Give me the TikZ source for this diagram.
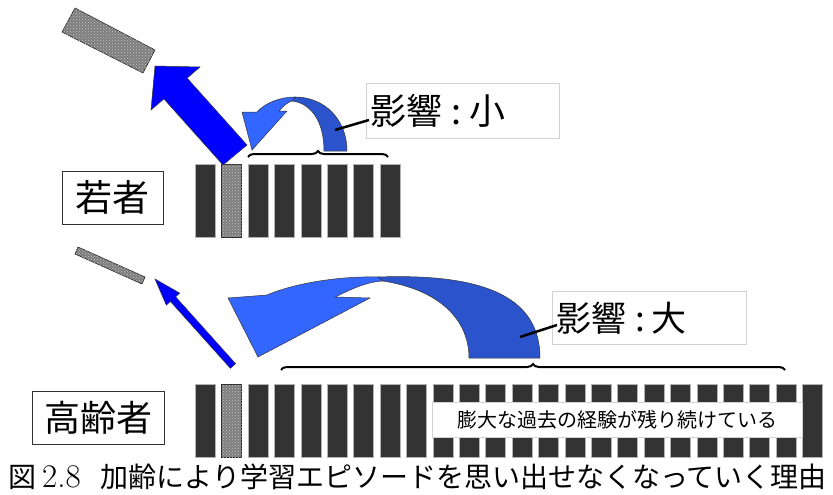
\documentclass[tikz,border=0pt]{standalone}
\usepackage{fontspec}
\newfontfamily\cjk{Noto Sans CJK JP}
\usetikzlibrary{decorations.pathreplacing,patterns}
\definecolor{barc}{RGB}{51,51,51}
\definecolor{lightb}{RGB}{51,102,255}
\definecolor{darkb}{RGB}{43,84,204}
\definecolor{pureb}{RGB}{0,0,255}
\definecolor{hatchc}{RGB}{125,125,125}
\begin{document}
\begin{tikzpicture}[x=1pt,y=-1pt,
  barbox/.style={fill=barc,draw=gray!60,line width=0.6pt,inner sep=0pt,anchor=north west},
  hatchbox/.style={fill=hatchc,draw=gray!30!black,line width=0.6pt,inner sep=0pt,anchor=north west,
     postaction={pattern=crosshatch dots,pattern color=gray!45}},
  hatchpoly/.style={fill=hatchc,draw=gray!30!black,line width=0.6pt,
     postaction={pattern=crosshatch dots,pattern color=gray!45}},
  outl/.style={draw=black!80,line width=0.5pt},
  labelbox/.style={draw=gray!35,fill=white,line width=0.8pt,inner xsep=4pt,inner ysep=0pt,anchor=north west,align=left},
  namebox/.style={draw=black!80,fill=white,line width=0.8pt,inner sep=0pt,anchor=north west},
  bracestyle/.style={decorate,decoration={brace,amplitude=6pt},line width=2pt},
  leader/.style={line width=2.5pt}]
\useasboundingbox (0,0) rectangle (833,495);

% ---------- top row (young) ----------
\foreach \i/\s in {0/barbox,1/hatchbox,2/barbox,3/barbox,4/barbox,5/barbox,6/barbox,7/barbox}
  \node[\s,minimum width=20pt,minimum height=73pt] (t\i) at ({195+26.4*\i},164) {};

\node[namebox,minimum width=101pt,minimum height=53pt,font=\cjk\fontsize{37}{37}\selectfont] (young) at (62,171) {若者};

% flying hatched bar (top)
\draw[hatchpoly] (62,32) -- (75,8) -- (155,50) -- (143,73) -- cycle;

% big blue arrow
\draw[outl,fill=pureb] (223,165) -- (163.9,98.9) -- (151,110) -- (155,66) -- (200,67) -- (187.1,78.1) -- (247,145) -- cycle;

% small curved arrow (top)
\draw[outl,fill=darkb] (295,97) .. controls (325,97) and (347,120) .. (347,151)
   -- (324,151) .. controls (324,120) and (310,103) .. (292,101) -- cycle;
\draw[outl,fill=lightb] (295,97) .. controls (280,97) and (265,103) .. (257,112)
   -- (242,112) -- (252,150) -- (287,111) -- (279,111)
   .. controls (283,106) and (288,102) .. (292,101) -- cycle;

% brace top
\coordinate (bt1) at (248,157);
\coordinate (bt2) at (388,157);
\draw[bracestyle] (bt1) -- (bt2);

% label small
\node[labelbox,minimum width=193pt,minimum height=55pt,text width=185pt,font=\cjk\fontsize{36}{36}\selectfont] (lblS) at (366,83) {影響\hspace{9pt}:\hspace{8pt}小};
\coordinate (ls1) at (335,130);
\coordinate (ls2) at (369,120);
\draw[leader] (ls1) -- (ls2);

% ---------- bottom row (elderly) ----------
\foreach \i in {0,...,23}{
  \ifnum\i=1
    \node[hatchbox,minimum width=20pt,minimum height=73pt] (b\i) at ({195+26.4*\i},384) {};
  \else
    \node[barbox,minimum width=20pt,minimum height=73pt] (b\i) at ({195+26.4*\i},384) {};
  \fi
}
\node[draw=gray!35,fill=white,line width=0.8pt,inner sep=0pt,anchor=north west,minimum width=370pt,minimum height=35pt,font=\cjk\fontsize{20}{20}\selectfont] (past) at (432,402) {膨大な過去の経験が残り続けている};

\node[namebox,minimum width=132pt,minimum height=53pt,font=\cjk\fontsize{36}{36}\selectfont] (old) at (32,391) {高齢者};

% flying hatched bar (bottom)
\draw[hatchpoly] (75,254) -- (78,247) -- (145,277) -- (142,284) -- cycle;

% small blue arrow
\draw[outl,fill=pureb] (230.4,368.3) -- (170.4,301.4) -- (166.3,305.1) -- (155,279) -- (179.7,293.1) -- (175.6,296.8) -- (235.6,363.7) -- cycle;

% big curved arrow (bottom)
\draw[outl,fill=darkb] (378,277) .. controls (490,273) and (540,300) .. (540,358)
   -- (469,358) .. controls (469,320) and (440,290) .. (383,281) -- cycle;
\draw[outl,fill=lightb] (378,277) .. controls (340,276) and (295,283) .. (267,295)
   -- (228,298) -- (258,357) -- (370,298) -- (335,297)
   .. controls (350,290) and (365,282) .. (383,281) -- cycle;

% brace bottom
\coordinate (bb1) at (281,370);
\coordinate (bb2) at (785,370);
\draw[bracestyle] (bb1) -- (bb2);

% label large
\node[labelbox,minimum width=194pt,minimum height=53pt,text width=186pt,font=\cjk\fontsize{35}{35}\selectfont] (lblL) at (552,291) {影響\hspace{9pt}:\hspace{6pt}大};
\coordinate (ll1) at (520,337);
\coordinate (ll2) at (557,325);
\draw[leader] (ll1) -- (ll2);

% caption
\node[anchor=west,inner sep=0pt,font=\fontsize{28}{28}\selectfont] (cap) at (8,477)
  {{\cjk 図}\hspace{6pt}{\fontsize{33}{33}\selectfont 2.8}\hspace{20pt}{\cjk 加齢により学習エピソードを思い出せなくなっていく理由}};
\end{tikzpicture}
\end{document}
